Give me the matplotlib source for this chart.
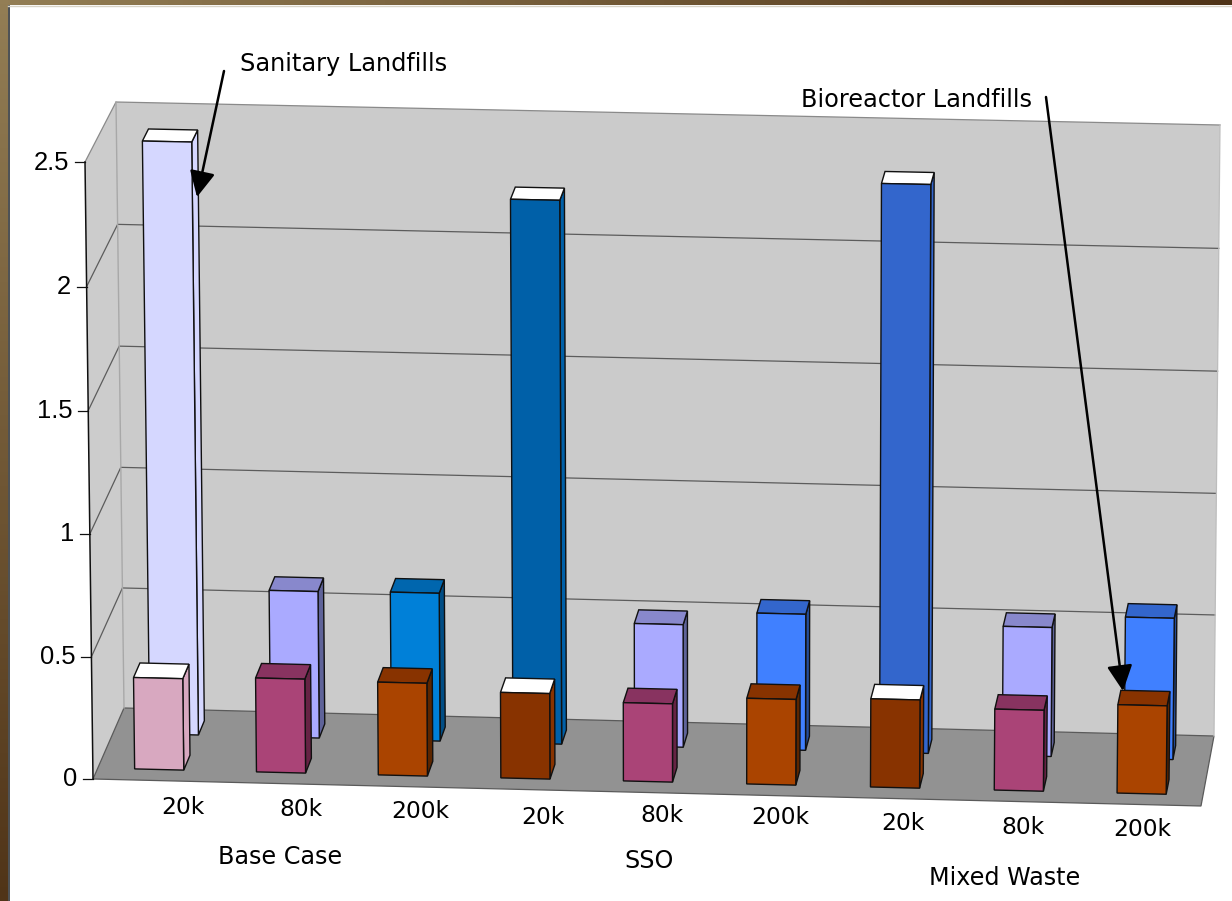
import numpy as np
import matplotlib
matplotlib.use("Agg")
import matplotlib.pyplot as plt
from matplotlib.patches import Polygon, FancyArrowPatch

# Chart values
sizes = ["20k", "80k", "200k", "20k", "80k", "200k", "20k", "80k", "200k"]
scenarios = ["Base Case", "SSO", "Mixed Waste"]
y_tick_values = [0, 0.5, 1, 1.5, 2, 2.5]
y_tick_labels = ["0", "0.5", "1", "1.5", "2", "2.5"]
sanitary_values = [2.43, 0.605, 0.61, 2.225, 0.505, 0.56, 2.32, 0.53, 0.58]
bioreactor_values = [0.375, 0.385, 0.38, 0.35, 0.32, 0.35, 0.36, 0.33, 0.36]

# Fill colours: face, top, side
sanitary_faces = ["#d5d7ff", "#aaaaff", "#0080d8", "#0060a8", "#aaaaff", "#4080ff", "#3366cc", "#aaaaff", "#4080ff"]
sanitary_tops = ["#ffffff", "#8888cc", "#0066ae", "#ffffff", "#8888cc", "#3366cc", "#ffffff", "#8888cc", "#3366cc"]
sanitary_sides = ["#d5d7ff", "#5f6399", "#004d85", "#0060a8", "#5f6399", "#264d99", "#3366cc", "#5f6399", "#264d99"]
bioreactor_faces = ["#d8a8c0", "#aa4477", "#aa4400", "#883300", "#aa4477", "#aa4400", "#883300", "#aa4477", "#aa4400"]
bioreactor_tops = ["#ffffff", "#883360", "#883300", "#ffffff", "#883360", "#883300", "#ffffff", "#883360", "#883300"]
bioreactor_sides = ["#d8a8c0", "#662344", "#5c2600", "#883300", "#662344", "#5c2600", "#883300", "#662344", "#5c2600"]

# Corners of the perspective box in figure pixels
FLOOR = {"fl": (93, 779), "fr": (1201, 806), "bl": (124, 708), "br": (1214, 736)}
CEILING = {"fl": (85, 162), "fr": (1208, 184), "bl": (116, 102), "br": (1220, 125)}
Y_MAX = 2.5
N_SLOTS = 9
SLOT_NUDGE = [0, -0.008, -0.016, -0.018, -0.02, -0.016, -0.008, 0, 0]
BAR_START, BAR_END = 0.30, 0.70
REAR_ROW = (0.65, 0.85)
FRONT_ROW = (0.155, 0.365)


def project(slot, depth, value):
    """Map (category slot, depth 0-1, value) to figure pixels."""
    s = slot / N_SLOTS
    def plane(c):
        front = (1 - s) * np.array(c["fl"], float) + s * np.array(c["fr"], float)
        back = (1 - s) * np.array(c["bl"], float) + s * np.array(c["br"], float)
        return (1 - depth) * front + depth * back
    t = value / Y_MAX
    t = t - 0.012 * t * (1 - t)
    return tuple((1 - t) * plane(FLOOR) + t * plane(CEILING))


def draw_bar(ax, slot, value, depth_range, colours, zorder):
    face, top, side = colours
    u0, u1 = slot + BAR_START, slot + BAR_END
    d0, d1 = depth_range
    style = dict(edgecolor="#101010", linewidth=1.0, joinstyle="miter", zorder=zorder)
    ax.add_patch(Polygon([project(u1, d0, 0), project(u1, d1, 0), project(u1, d1, value), project(u1, d0, value)],
                         facecolor=side, **style))
    ax.add_patch(Polygon([project(u0, d0, value), project(u1, d0, value), project(u1, d1, value), project(u0, d1, value)],
                         facecolor=top, **style))
    ax.add_patch(Polygon([project(u0, d0, 0), project(u1, d0, 0), project(u1, d0, value), project(u0, d0, value)],
                         facecolor=face, **style))


fig = plt.figure(figsize=(12.32, 9.01), dpi=100, facecolor="white")
ax = fig.add_axes([0, 0, 1, 1])

# Slide frame: brown gradients along the top and left edges
top_band = np.linspace(0, 1, 256).reshape(1, -1, 1)
left_band = np.linspace(0, 1, 256).reshape(-1, 1, 1)
light = np.array([0x93, 0x7e, 0x55]) / 255
dark = np.array([0x50, 0x34, 0x18]) / 255
ax.imshow(light + (dark - light) * top_band, extent=(0, 1232, 5, 0), aspect="auto", zorder=1)
ax.imshow(light + (dark - light) * left_band, extent=(0, 8, 901, 0), aspect="auto", zorder=1)
ax.set_xlim(0, 1232)
ax.set_ylim(901, 0)
ax.axis("off")
ax.plot([8.5, 8.5], [5.5, 901], color="#3c4044", lw=1.3, zorder=2)
ax.plot([8, 1232], [5.5, 5.5], color="#d8d4c8", lw=1.0, zorder=2)

# Walls and floor
ax.add_patch(Polygon([project(0, 0, 0), project(0, 1, 0), project(0, 1, Y_MAX), project(0, 0, Y_MAX)],
                     facecolor="#cccccc", edgecolor="none", zorder=3))
ax.add_patch(Polygon([project(0, 1, 0), project(N_SLOTS, 1, 0), project(N_SLOTS, 1, Y_MAX), project(0, 1, Y_MAX)],
                     facecolor="#cbcbcb", edgecolor="none", zorder=3))
ax.add_patch(Polygon([project(0, 0, 0), project(N_SLOTS, 0, 0), project(N_SLOTS, 1, 0), project(0, 1, 0)],
                     facecolor="#929292", edgecolor="#5a5a5a", linewidth=0.9, zorder=3))

# Wall outlines and gridlines
for value in y_tick_values[1:]:
    line_colour = "#8a8a8a" if value == Y_MAX else "#5c5c5c"
    pts = [project(0, 0, value), project(0, 1, value), project(N_SLOTS, 1, value)]
    ax.plot(*zip(*pts), color=line_colour, lw=0.9, zorder=4, solid_joinstyle="miter")
ax.plot(*zip(project(0, 1, 0), project(0, 1, Y_MAX)), color="#a8a8a8", lw=1.0, zorder=4)
ax.plot(*zip(project(N_SLOTS, 1, 0), project(N_SLOTS, 1, Y_MAX)), color="#bdbdbd", lw=0.9, zorder=4)
ax.plot(*zip(project(0, 0, 0), project(0, 0, Y_MAX)), color="#101010", lw=1.1, zorder=5)

# Value axis ticks and labels
for value, label in zip(y_tick_values, y_tick_labels):
    x, y = project(0, 0, value)
    ax.plot([x - 10, x], [y, y], color="#101010", lw=0.9, zorder=5)
    ax.text(x - 16, y + 0.5, label, ha="right", va="center", family="Liberation Sans", fontsize=18.4, color="black", zorder=6)

# Bars: rear row first so the front row overlaps it
for i, value in enumerate(sanitary_values):
    draw_bar(ax, i + SLOT_NUDGE[i], value, REAR_ROW,
             (sanitary_faces[i], sanitary_tops[i], sanitary_sides[i]), 7)
for i, value in enumerate(bioreactor_values):
    draw_bar(ax, i + SLOT_NUDGE[i], value, FRONT_ROW,
             (bioreactor_faces[i], bioreactor_tops[i], bioreactor_sides[i]), 8)

# Category labels
size_label_x = [183, 301, 420, 543, 662, 780, 903, 1023, 1142]
size_label_y = [807, 810, 811, 817, 816, 818, 824, 828, 829]
for label, x, y in zip(sizes, size_label_x, size_label_y):
    ax.text(x, y, label, ha="center", va="center", family="DejaVu Sans", fontsize=16.8, color="black", zorder=9)
scenario_label_x = [280, 649, 1005]
scenario_label_y = [857, 861, 878]
for label, x, y in zip(scenarios, scenario_label_x, scenario_label_y):
    ax.text(x, y, label, ha="center", va="center", family="DejaVu Sans", fontsize=17.2, color="black", zorder=9)

# Callouts
ax.text(240, 64, "Sanitary Landfills", ha="left", va="center", family="DejaVu Sans", fontsize=17.3, zorder=9)
ax.text(801, 100, "Bioreactor Landfills", ha="left", va="center", family="DejaVu Sans", fontsize=17.3, zorder=9)
for start, tip in [((224, 71), (197, 197)), ((1046, 97), (1123, 691))]:
    ax.add_patch(FancyArrowPatch(start, tip, arrowstyle="-|>,head_length=1.05,head_width=0.52",
                                 mutation_scale=15, shrinkA=0, shrinkB=0, linewidth=1.8,
                                 color="black", zorder=10))

fig.savefig("out.png", dpi=100)
